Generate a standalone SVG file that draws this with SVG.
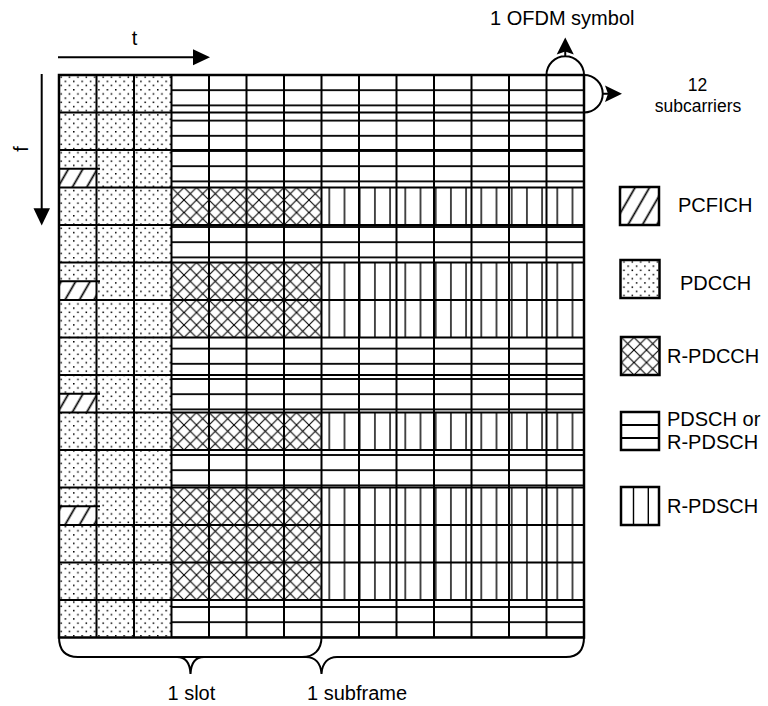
<svg xmlns="http://www.w3.org/2000/svg" width="768" height="706" viewBox="0 0 768 706">
<style>
.grid{fill:none;stroke:#000;stroke-width:2}
.ln{fill:none;stroke:#000;stroke-width:2}
.box{stroke:#000;stroke-width:2.5}
.lbl{font-family:"Liberation Sans",Arial,sans-serif;font-size:20px;fill:#000}
.sm{font-size:17.5px}
</style>
<defs>
<pattern id="dots" patternUnits="userSpaceOnUse" x="59" y="75" width="8.4" height="8.4">
<rect width="8.4" height="8.4" fill="#fff"/>
<rect x="1.4" y="1.4" width="1.5" height="1.5" fill="#000"/>
<rect x="5.6" y="5.6" width="1.5" height="1.5" fill="#000"/>
</pattern>
<pattern id="hl" patternUnits="userSpaceOnUse" x="0" y="67.4" width="15.2" height="15.2">
<rect width="15.2" height="15.2" fill="#fff"/>
<rect x="0" y="6.7" width="15.2" height="1.8" fill="#000"/>
</pattern>
<pattern id="vl" patternUnits="userSpaceOnUse" x="321.7" y="0" width="15.2" height="15.2">
<rect width="15.2" height="15.2" fill="#fff"/>
<rect x="6.9" y="0" width="1.4" height="15.2" fill="#000"/>
</pattern>
<pattern id="cross" patternUnits="userSpaceOnUse" x="59" y="75" width="12.5" height="12.5">
<rect width="12.5" height="12.5" fill="#fff"/>
<path d="M-1,-1L13.5,13.5M13.5,-1L-1,13.5" stroke="#000" stroke-width="1.1"/>
</pattern>
<pattern id="hatch" patternUnits="userSpaceOnUse" width="12.5" height="12.5" patternTransform="rotate(30)">
<rect width="12.5" height="12.5" fill="#fff"/>
<rect x="5.4" y="0" width="1.7" height="12.5" fill="#000"/>
</pattern>
</defs>
<rect width="768" height="706" fill="#fff"/>

<g id="pdcch">
<rect x="59" y="75" width="112.5" height="562.5" fill="url(#dots)"/>
</g>
<g id="pcfich">
<rect x="59" y="168.75" width="37.5" height="18.75" fill="url(#hatch)"/>
<rect x="59" y="281.25" width="37.5" height="18.75" fill="url(#hatch)"/>
<rect x="59" y="393.75" width="37.5" height="18.75" fill="url(#hatch)"/>
<rect x="59" y="506.25" width="37.5" height="18.75" fill="url(#hatch)"/>
<path class="ln" d="M59,168.75H100M59,281.25H100M59,393.75H100M59,506.25H100"/>
</g>
<g id="r-pdcch">
<rect x="171.5" y="187.5" width="150" height="37.5" fill="url(#cross)"/>
<rect x="171.5" y="262.5" width="150" height="75" fill="url(#cross)"/>
<rect x="171.5" y="412.5" width="150" height="37.5" fill="url(#cross)"/>
<rect x="171.5" y="487.5" width="150" height="112.5" fill="url(#cross)"/>
</g>
<g id="r-pdsch">
<rect x="321.5" y="187.5" width="262.5" height="37.5" fill="url(#vl)"/>
<rect x="321.5" y="262.5" width="262.5" height="75" fill="url(#vl)"/>
<rect x="321.5" y="412.5" width="262.5" height="37.5" fill="url(#vl)"/>
<rect x="321.5" y="487.5" width="262.5" height="112.5" fill="url(#vl)"/>
</g>
<g id="pdsch">
<rect x="171.5" y="75" width="412.5" height="112.5" fill="url(#hl)"/>
<rect x="171.5" y="225" width="412.5" height="37.5" fill="url(#hl)"/>
<rect x="171.5" y="337.5" width="412.5" height="75" fill="url(#hl)"/>
<rect x="171.5" y="450" width="412.5" height="37.5" fill="url(#hl)"/>
<rect x="171.5" y="600" width="412.5" height="37.5" fill="url(#hl)"/>
</g>
<g id="grid">
<path class="grid" d="M96.5,75V637.5M134,75V637.5M171.5,75V637.5M209,75V637.5M246.5,75V637.5M284,75V637.5M321.5,75V637.5M359,75V637.5M396.5,75V637.5M434,75V637.5M471.5,75V637.5M509,75V637.5M546.5,75V637.5
M59,112.5H584M59,150H584M59,187.5H584M59,225H584M59,262.5H584M59,300H584M59,337.5H584M59,375H584M59,412.5H584M59,450H584M59,487.5H584M59,525H584M59,562.5H584M59,600H584"/>
<rect x="59" y="75" width="525" height="562.5" fill="none" stroke="#000" stroke-width="2.5"/>
</g>

<g id="connectors">
<path class="ln" d="M58,57.3H195"/>
<polygon points="193,49.3 210,57.3 193,65.3" fill="#000"/>
<path class="ln" d="M41.7,74V210"/>
<polygon points="33.5,208.3 50,208.3 41.7,225.5" fill="#000"/>
<path class="ln" d="M546.5,75A18.75,18.75 0 0 1 584,75M565.25,56.25V51"/>
<polygon points="565.25,37.5 573.8,54.5 565.25,51.5 556.7,54.5" fill="#000"/>
<path class="ln" d="M584,75A18.75,18.75 0 0 1 584,112.5M602.75,93.75H608"/>
<polygon points="622,93.75 605,85.5 608,93.75 605,102" fill="#000"/>
<path class="ln" d="M59,637C59,650 65,657 78,657L177,657C186,657 190,663 190.5,674C191,663 195,657 204,657L302,657C314,657 321.5,650 321.5,637"/>
<path class="ln" d="M78,657L306,657C315,657 321,663 321.5,674C322,663 328,657 337,657L566,657C578,657 584,650 584,637"/>
</g>

<g id="labels">
<text class="lbl" x="134.5" y="45" text-anchor="middle">t</text>
<text class="lbl" transform="translate(28,149) rotate(-90)" text-anchor="middle">f</text>
<text class="lbl" x="490" y="25">1 OFDM symbol</text>
<text class="lbl sm" x="697.5" y="90.5" text-anchor="middle">12</text>
<text class="lbl sm" x="698" y="112" text-anchor="middle">subcarriers</text>
<text class="lbl" x="167.5" y="700">1 slot</text>
<text class="lbl" x="307" y="700">1 subframe</text>
</g>

<g id="legend-pcfich">
<rect class="box" x="620" y="187" width="39" height="38" fill="url(#hatch)"/>
<text class="lbl" x="678" y="212">PCFICH</text>
</g>
<g id="legend-pdcch">
<rect class="box" x="620.5" y="260" width="39" height="38" fill="url(#dots)"/>
<text class="lbl" x="680" y="290">PDCCH</text>
</g>
<g id="legend-r-pdcch">
<rect class="box" x="621" y="337" width="38.5" height="38" fill="url(#cross)"/>
<text class="lbl" x="667" y="363">R-PDCCH</text>
</g>
<g id="legend-pdsch">
<rect class="box" x="621" y="412" width="38" height="38" fill="#fff"/>
<path d="M621,425H659M621,438H659" stroke="#000" stroke-width="1.8"/>
<text class="lbl" x="667" y="426">PDSCH or</text>
<text class="lbl" x="667" y="448.5">R-PDSCH</text>
</g>
<g id="legend-r-pdsch">
<rect class="box" x="621" y="487" width="38" height="38" fill="#fff"/>
<path d="M633.5,487V525M648.3,487V525" stroke="#000" stroke-width="1.4"/>
<text class="lbl" x="667" y="513">R-PDSCH</text>
</g>
</svg>
